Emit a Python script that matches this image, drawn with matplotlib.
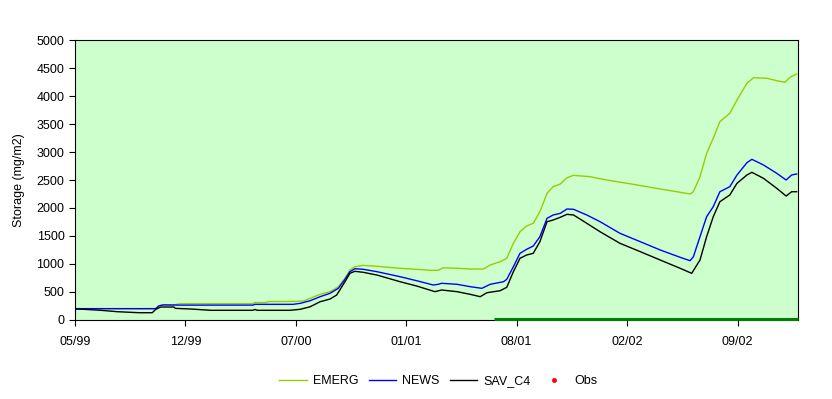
import matplotlib
matplotlib.use("Agg")
import matplotlib.pyplot as plt
from matplotlib.lines import Line2D

plt.rcParams['font.family'] = ['Liberation Sans', 'DejaVu Sans']

# x values are days from the first tick (05/99); ticks every 200 days
tick_days = [0, 200, 400, 600, 800, 1000, 1200]
tick_labels = ['05/99', '12/99', '07/00', '01/01', '08/01', '02/02', '09/02']
x_end = 1309

emerg_days = [0, 146, 152, 160, 179, 191, 322, 326, 346, 350, 400, 415, 426, 444,
              462, 477, 489, 498, 507, 522, 547, 589, 619, 643, 658, 667, 692, 716,
              740, 752, 770, 782, 794, 806, 818, 830, 842, 855, 866, 879, 891, 903,
              933, 963, 1011, 1060, 1096, 1114, 1120, 1132, 1144, 1156, 1168, 1186,
              1199, 1217, 1229, 1253, 1271, 1286, 1295, 1307]
emerg_vals = [192, 192, 245, 262, 262, 285, 285, 305, 305, 322, 325, 335, 380, 451,
              499, 588, 738, 887, 946, 971, 953, 918, 900, 882, 882, 928, 918, 905,
              905, 977, 1036, 1097, 1366, 1573, 1676, 1724, 1932, 2262, 2380, 2428, 2541, 2584,
              2559, 2500, 2423, 2339, 2280, 2249, 2290, 2559, 2978, 3247, 3545, 3695,
              3934, 4233, 4333, 4323, 4280, 4251, 4341, 4400]

news_days = [0, 146, 152, 160, 191, 322, 326, 395, 408, 426, 444, 462, 477, 489,
             498, 507, 522, 547, 589, 619, 649, 658, 664, 692, 716, 737, 752, 776,
             782, 794, 806, 818, 830, 842, 855, 866, 879, 891, 903, 927, 951, 987,
             1024, 1060, 1096, 1114, 1120, 1132, 1144, 1156, 1168, 1186, 1199, 1217,
             1226, 1247, 1271, 1288, 1298, 1307]
news_vals = [195, 195, 245, 262, 258, 258, 272, 272, 290, 337, 409, 470, 559, 720,
             857, 910, 900, 857, 767, 695, 618, 631, 649, 631, 588, 559, 631, 677,
             720, 946, 1186, 1258, 1317, 1484, 1814, 1873, 1903, 1980, 1975, 1873, 1753, 1545,
             1394, 1246, 1115, 1054, 1125, 1484, 1842, 2022, 2290, 2380, 2590, 2810,
             2871, 2769, 2620, 2500, 2590, 2608]

sav_days = [0, 16, 47, 77, 116, 140, 146, 155, 179, 182, 210, 246, 322, 326, 330,
            389, 408, 426, 444, 462, 474, 489, 498, 507, 522, 547, 589, 619, 652,
            664, 692, 716, 734, 746, 770, 782, 794, 806, 818, 830, 842, 855, 866,
            879, 891, 903, 927, 951, 987, 1024, 1060, 1096, 1117, 1132, 1144, 1156,
            1168, 1186, 1199, 1217, 1226, 1247, 1271, 1288, 1298, 1307]
sav_vals = [188, 183, 165, 140, 122, 122, 180, 224, 224, 200, 188, 165, 165, 180, 165,
            165, 183, 229, 319, 367, 439, 677, 828, 864, 846, 797, 677, 600, 499,
            529, 499, 451, 409, 480, 516, 577, 857, 1097, 1156, 1186, 1394, 1753, 1783,
            1832, 1885, 1873, 1724, 1573, 1366, 1215, 1066, 918, 828, 1066, 1484, 1842,
            2111, 2231, 2441, 2590, 2638, 2530, 2351, 2213, 2290, 2290]

# dark green band along the zero line
band_days = [759, 1309]
band_vals = [0, 0]

fig = plt.figure(figsize=(8.32, 3.99), dpi=100)
ax = fig.add_axes([0.0901, 0.1992, 0.8687, 0.6993])
ax.set_facecolor('#CCFFCC')

ax.plot(emerg_days, emerg_vals, color='#99CC00', lw=1.0, label='EMERG')
ax.plot(news_days, news_vals, color='#0000FF', lw=1.0, label='NEWS')
ax.plot(sav_days, sav_vals, color='black', lw=1.0, label='SAV_C4')
ax.plot(band_days, [v + 18 for v in band_vals], color='#008000', lw=2.2,
        clip_on=False, zorder=3, solid_capstyle='butt')

ax.set_xlim(0, x_end)
ax.set_ylim(0, 5000)
ax.set_yticks(range(0, 5001, 500))
ax.set_xticks(tick_days)
ax.set_xticklabels(tick_labels)
ax.tick_params(axis='both', labelsize=9, length=4, width=0.8, direction='out')
ax.tick_params(axis='x', pad=8)
for s in ax.spines.values():
    s.set_color('black')
    s.set_linewidth(0.8)
ax.set_ylabel('Storage (mg/m2)', fontsize=9, labelpad=8)

handles = [Line2D([], [], color='#99CC00', lw=1.0),
           Line2D([], [], color='#0000FF', lw=1.0),
           Line2D([], [], color='black', lw=1.0),
           Line2D([], [], color='red', marker='o', ms=2.5, ls='none')]
fig.legend(handles, ['EMERG', 'NEWS', 'SAV_C4', 'Obs'], loc='center',
           bbox_to_anchor=(0.527, 0.044), ncol=4, frameon=False, fontsize=9,
           handlelength=2.2, columnspacing=0.8, handletextpad=0.5)

fig.savefig('out.png', dpi=100)
